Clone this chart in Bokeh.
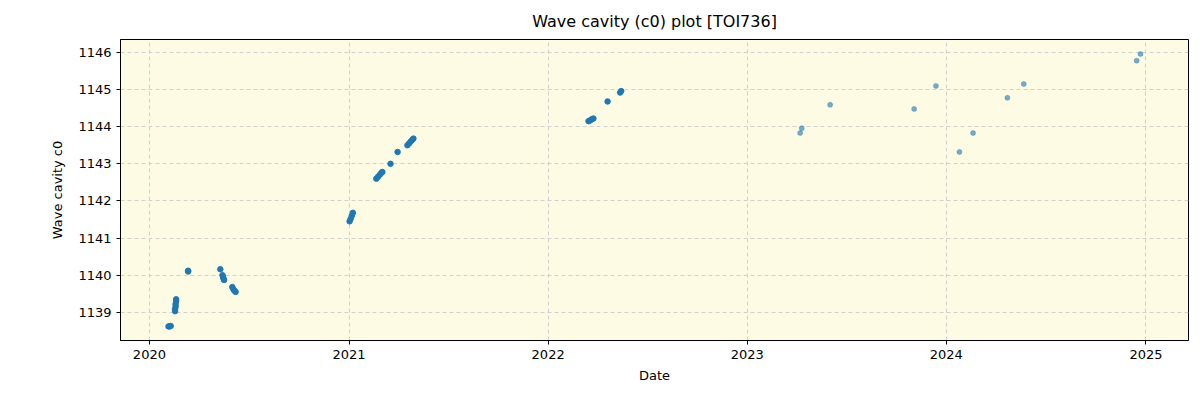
import pandas as pd
from bokeh.plotting import figure
from bokeh.models import FixedTicker, DatetimeTickFormatter, Range1d, Title
from bokeh.embed import file_html
from bokeh.resources import INLINE

# Dense early campaign (opaque points)
dates_main = [
    "2020-02-05", "2020-02-07", "2020-02-09",
    "2020-02-17", "2020-02-17", "2020-02-18", "2020-02-18", "2020-02-19", "2020-02-19",
    "2020-03-12", "2020-03-12",
    "2020-05-10", "2020-05-14", "2020-05-15", "2020-05-16", "2020-05-17",
    "2020-06-01", "2020-06-03", "2020-06-05", "2020-06-07",
    "2021-01-02", "2021-01-04", "2021-01-06", "2021-01-08",
    "2021-02-20", "2021-02-23", "2021-02-26", "2021-03-01", "2021-03-03",
    "2021-03-18", "2021-03-31",
    "2021-04-18", "2021-04-21", "2021-04-24", "2021-04-27", "2021-04-29",
    "2022-03-16", "2022-03-19", "2022-03-22", "2022-03-25",
    "2022-04-20", "2022-05-13", "2022-05-15",
]
c0_main = [
    1138.62, 1138.62, 1138.63,
    1139.03, 1139.08, 1139.15, 1139.22, 1139.30, 1139.35,
    1140.10, 1140.12,
    1140.16, 1140.00, 1139.95, 1139.90, 1139.87,
    1139.68, 1139.62, 1139.58, 1139.55,
    1141.45, 1141.52, 1141.60, 1141.68,
    1142.60, 1142.65, 1142.70, 1142.75, 1142.78,
    1143.00, 1143.32,
    1143.50, 1143.55, 1143.60, 1143.65, 1143.68,
    1144.15, 1144.17, 1144.20, 1144.22,
    1144.68, 1144.92, 1144.96,
]

# Sparse later measurements (semi-transparent points)
dates_late = [
    "2023-04-08", "2023-04-11", "2023-06-02", "2023-11-03", "2023-12-13",
    "2024-01-25", "2024-02-19", "2024-04-22", "2024-05-22",
    "2024-12-15", "2024-12-22",
]
c0_late = [
    1143.83, 1143.96, 1144.59, 1144.48, 1145.10,
    1143.32, 1143.83, 1144.78, 1145.15,
    1145.78, 1145.96,
]

year_ticks = [2020, 2021, 2022, 2023, 2024, 2025]
c0_ticks = [1139, 1140, 1141, 1142, 1143, 1144, 1145, 1146]

x_main = pd.to_datetime(dates_main)
x_late = pd.to_datetime(dates_late)

p = figure(
    width=1200, height=400,
    x_axis_type="datetime",
    output_backend="svg", toolbar_location=None,
    x_range=Range1d(pd.Timestamp("2019-11-09"), pd.Timestamp("2025-03-20")),
    y_range=Range1d(1138.24, 1146.35),
    min_border_left=120, min_border_right=12, min_border_top=0, min_border_bottom=60,
)
p.background_fill_color = "#fdfbe3"
p.border_fill_color = "white"
p.outline_line_color = "black"
p.outline_line_width = 1

title = Title(text="Wave cavity (c0) plot [TOI736]", align="center",
              text_font="DejaVu Sans", text_font_size="16px",
              text_font_style="normal", text_color="black",
              offset=-54, standoff=18)
p.add_layout(title, "above")

p.scatter(x_main, c0_main, size=5.5, color="#1f77b4", alpha=1.0)
p.scatter(x_late, c0_late, size=5, fill_color="#1f77b4", fill_alpha=0.6,
          line_color="#1f77b4", line_alpha=0.35)

tick_ms = [pd.Timestamp(f"{y}-01-01").value // 10**6 for y in year_ticks]
p.xaxis.ticker = FixedTicker(ticks=tick_ms)
p.xaxis.formatter = DatetimeTickFormatter(years="%Y", months="%Y", days="%Y",
                                          hours="%Y", minutes="%Y", seconds="%Y")
p.yaxis.ticker = FixedTicker(ticks=c0_ticks)

for ax in (p.xaxis, p.yaxis):
    ax.major_label_text_font = "DejaVu Sans"
    ax.major_label_text_font_size = "13px"
    ax.major_label_text_color = "black"
    ax.axis_label_text_font = "DejaVu Sans"
    ax.axis_label_text_font_size = "13px"
    ax.axis_label_text_font_style = "normal"
    ax.axis_label_text_color = "black"
    ax.minor_tick_line_color = None
    ax.major_tick_out = 4
    ax.major_tick_in = 0
    ax.axis_line_color = "black"
    ax.major_tick_line_color = "black"

p.xaxis.axis_label = "Date"
p.yaxis.axis_label = "Wave cavity c0"
p.xaxis.axis_label_standoff = 6
p.yaxis.axis_label_standoff = 10

p.grid.grid_line_color = "#d0d0d0"
p.grid.grid_line_dash = "4 3"
p.grid.grid_line_width = 1

open("out.html", "w").write(file_html(p, INLINE))
